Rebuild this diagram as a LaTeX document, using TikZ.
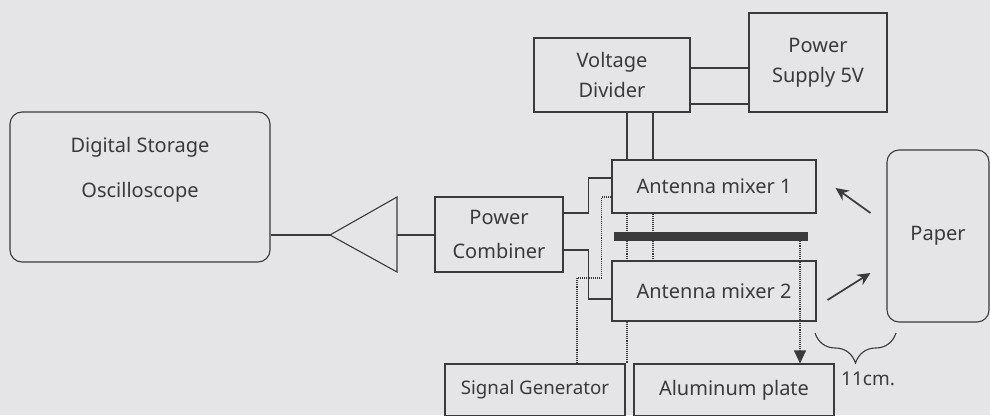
\documentclass[tikz,border=0pt]{standalone}
\usepackage{fontspec}
\setmainfont{Noto Sans}
\usetikzlibrary{arrows.meta,calc,decorations.pathreplacing}
\definecolor{bgpaper}{RGB}{229,229,231}
\definecolor{ink}{RGB}{58,58,60}

\begin{document}
\begin{tikzpicture}[
    x=1pt, y=-1pt,
    font=\fontsize{20}{30}\selectfont,
    every node/.style={align=center, text=ink},
    box/.style={
        rectangle,
        draw=ink,
        line width=1.1pt,
        inner sep=0pt
    },
    roundbox/.style={box, rounded corners=12pt},
    line/.style={draw=ink, line width=1.1pt},
    bus/.style={draw=ink, line width=2pt},
    dots/.style={draw=ink, line width=1.1pt, densely dotted},
    pointer/.style={draw=ink, line width=1.7pt, -{Stealth[length=13pt,width=12pt]}},
]

% Frame
\useasboundingbox (0,0) rectangle (990,415);
\clip (0,0) rectangle (990,415);
\fill[bgpaper] (0,0) rectangle (990,415);

% Left side
\node[roundbox, minimum width=260pt, minimum height=150pt] (dso) at (140,187) {};
\node[font=\fontsize{20}{45}\selectfont] (dsotext) at (140,170) {Digital Storage\\Oscilloscope};
\node[box, minimum width=128pt, minimum height=75pt, font=\fontsize{20}{34}\selectfont] (pc) at (499,234.5) {Power\\Combiner};

% Amplifier
\coordinate (amptip) at (330,235);
\coordinate (ampin) at (397,235);
\draw[line, line join=miter] (amptip) -- (397,197) -- (397,272) -- cycle;

% Supply
\node[box, minimum width=156pt, minimum height=74pt] (vd) at (612,75) {Voltage\\Divider};
\node[box, minimum width=138pt, minimum height=99pt] (ps) at (818,62.5) {Power\\Supply 5V};

% Antennas and plate
\node[box, minimum width=204pt, minimum height=53pt] (am1) at (714,186.5) {Antenna mixer 1};
\node[box, minimum width=204pt, minimum height=60pt] (am2) at (714,291) {Antenna mixer 2};
\node[fill=ink, minimum width=194pt, minimum height=9pt, inner sep=0pt] (bar) at (711,236.5) {};

% Bottom row
\node[box, minimum width=180pt, minimum height=52pt, font=\fontsize{18.7}{20}\selectfont] (sg) at (535,390) {Signal Generator};
\node[box, minimum width=200pt, minimum height=52pt] (al) at (734,390) {Aluminum plate};

% Paper
\node[roundbox, minimum width=102pt, minimum height=172pt] (paper) at (938,236) {Paper};

% Connections
\draw[line] (amptip) -- (amptip -| dso.east);
\draw[line] (ampin) -- (ampin -| pc.west);

\draw[line] ([yshift=21.5pt]pc.east) -- ++(25,0) |- ([yshift=8.5pt]am1.west);
\draw[line] ([yshift=-15.5pt]pc.east) -- ++(25,0) |- ([yshift=-8pt]am2.west);

\coordinate (busa) at (0,68);
\coordinate (busb) at (0,104);
\draw[bus] (busa -| vd.east) -- (busa -| ps.west);
\draw[bus] (busb -| vd.east) -- (busb -| ps.west);

\coordinate (feeda) at (627,0);
\coordinate (feedb) at (653,0);
\draw[bus] (feeda |- vd.south) -- (feeda |- am1.north);
\draw[bus] (feedb |- vd.south) -- (feedb |- am1.north);
\draw[dots] (feeda |- am1.south) -- (feeda |- am2.north);
\draw[dots] (feedb |- am1.south) -- (feedb |- am2.north);

\coordinate (sgfeed) at (577,0);
\draw[dots] ([yshift=-10.5pt]am1.west) -- ++(-10,0) -- ++(0,81) -| (sgfeed |- sg.north);
\draw[dots] (feeda |- am2.south) -- (feeda |- sg.north);

\coordinate (probe) at (800,0);
\draw[dots, -{Triangle[length=13pt,width=12pt]}] (probe |- bar.south) -- (probe |- al.north);

\draw[pointer] ($(paper.west)+(-16,-23)$) -- ($(am1.east)+(19,1.5)$);
\draw[pointer] ($(am2.east)+(11,9)$) -- ($(paper.west)+(-16,37)$);

% Distance
\coordinate (gapl) at (815,333);
\coordinate (gapr) at (896,333);
\draw[line, decorate, decoration={brace, mirror, amplitude=30pt, aspect=0.5}] (gapl) -- (gapr);
\node[font=\fontsize{19}{20}\selectfont] (gap) at (868,379) {11cm.};

\end{tikzpicture}
\end{document}
